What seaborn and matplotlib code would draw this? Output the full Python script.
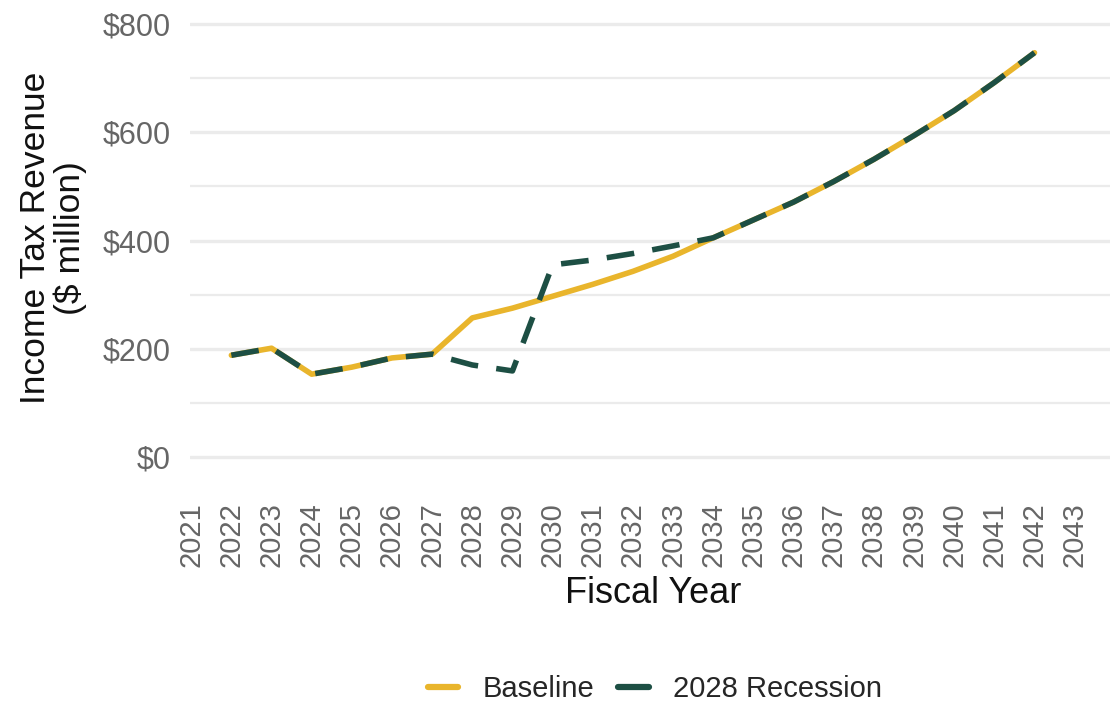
import matplotlib
matplotlib.use("Agg")
import matplotlib.pyplot as plt
from matplotlib.lines import Line2D
from matplotlib.ticker import FuncFormatter, MultipleLocator
import pandas as pd
import seaborn as sns

# Fiscal years and projected income tax revenue ($ million)
years = list(range(2022, 2043))
baseline = [188, 201, 153, 166, 183, 190, 257, 275, 297, 319, 343, 371,
            405, 438, 471, 509, 550, 594, 640, 692, 747]
recession = [188, 201, 153, 166, 183, 190, 170, 159, 355, 364, 376, 390,
             405, 438, 471, 509, 550, 594, 640, 692, 747]
scenarios = ["Baseline", "2028 Recession"]
colors = {"Baseline": "#E9B52C", "2028 Recession": "#1D4F44"}
year_ticks = list(range(2021, 2044))
revenue_ticks = [0, 200, 400, 600, 800]

df = pd.concat([
    pd.DataFrame({"year": years, "revenue": baseline, "scenario": scenarios[0]}),
    pd.DataFrame({"year": years, "revenue": recession, "scenario": scenarios[1]}),
])

sns.set_theme(style="white")
plt.rcParams["font.family"] = ["Liberation Sans", "DejaVu Sans"]

fig = plt.figure(figsize=(11.1, 7.02), dpi=100)
ax = fig.add_axes([190 / 1110, 1 - 467.8 / 702, 920 / 1110, 460 / 702])

sns.lineplot(data=df[df.scenario == "Baseline"], x="year", y="revenue",
             color=colors["Baseline"], linewidth=4.0, ax=ax, zorder=3)
sns.lineplot(data=df[df.scenario == "2028 Recession"], x="year", y="revenue",
             color=colors["2028 Recession"], linewidth=4.0, ax=ax, zorder=4)
ax.lines[-1].set_dashes((5, 3.3))

ax.set_xlim(2020.97, 2043.88)
ax.set_ylim(-20, 830)

# gridlines: heavier at $200 steps, lighter in between
ax.yaxis.set_major_locator(MultipleLocator(200))
ax.yaxis.set_minor_locator(MultipleLocator(100))
ax.grid(axis="y", which="major", color="#EBEBEB", linewidth=2.4, zorder=0)
ax.grid(axis="y", which="minor", color="#EBEBEB", linewidth=1.6, zorder=0)
ax.grid(axis="x", visible=False)
ax.set_yticks(revenue_ticks)
ax.yaxis.set_major_formatter(FuncFormatter(lambda v, p: f"${v:,.0f}"))
ax.set_xticks(year_ticks)
ax.set_xticklabels([str(y) for y in year_ticks], rotation=90)

for s in ax.spines.values():
    s.set_visible(False)
ax.tick_params(axis="y", which="both", length=0, pad=14, labelsize=22,
               labelcolor="#666666")
ax.tick_params(axis="x", length=0, pad=25, labelsize=21, labelcolor="#666666")

ax.set_xlabel("Fiscal Year", fontsize=26, color="#111111")
ax.xaxis.set_label_coords(0.504, -0.235)
ax.set_ylabel("Income Tax Revenue\n($ million)", fontsize=25.5, color="#111111",
              linespacing=1.05)
ax.yaxis.set_label_coords(-0.112, 0.5)

handles = [Line2D([], [], color=colors[s], linewidth=4.5) for s in scenarios]
fig.legend(handles, scenarios, loc="center", bbox_to_anchor=(655 / 1110, 1 - 689 / 702),
           ncol=2, frameon=False, fontsize=21, handlelength=1.05,
           columnspacing=0.8, handletextpad=0.85)

fig.savefig("out.png", dpi=100)
